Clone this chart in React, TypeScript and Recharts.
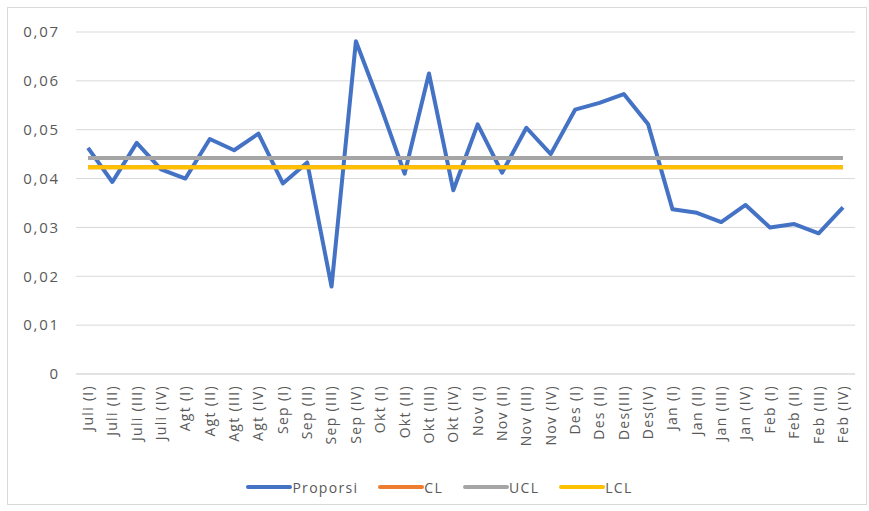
import { LineChart, Line, XAxis, YAxis, CartesianGrid, Legend } from "recharts";

const categories = [
  "Juli (I)", "Juli (II)", "Juli (III)", "Juli (IV)",
  "Agt (I)", "Agt (II)", "Agt (III)", "Agt (IV)",
  "Sep (I)", "Sep (II)", "Sep (III)", "Sep (IV)",
  "Okt (I)", "Okt (II)", "Okt (III)", "Okt (IV)",
  "Nov (I)", "Nov (II)", "Nov (III)", "Nov (IV)",
  "Des (I)", "Des (II)", "Des(III)", "Des(IV)",
  "Jan (I)", "Jan (II)", "Jan (III)", "Jan (IV)",
  "Feb (I)", "Feb (II)", "Feb (III)", "Feb (IV)",
];

const proporsi = [
  0.0463, 0.0393, 0.0473, 0.0419,
  0.04, 0.0481, 0.0458, 0.0492,
  0.039, 0.0433, 0.0179, 0.0681,
  0.055, 0.041, 0.0615, 0.0376,
  0.0511, 0.0412, 0.0504, 0.045,
  0.0541, 0.0555, 0.0573, 0.0511,
  0.0337, 0.033, 0.0311, 0.0346,
  0.03, 0.0307, 0.0288, 0.0341,
];

// garis kontrol (konstan)
const clValue = 0.0423;
const uclValue = 0.0442;
const lclValue = 0.0423;

const yTicks = [0, 0.01, 0.02, 0.03, 0.04, 0.05, 0.06, 0.07];

const series = [
  { key: "Proporsi", color: "#4472C4" },
  { key: "CL", color: "#ED7D31" },
  { key: "UCL", color: "#A5A5A5" },
  { key: "LCL", color: "#FFC000" },
];

const data = categories.map((name, i) => ({
  name,
  Proporsi: proporsi[i],
  CL: clValue,
  UCL: uclValue,
  LCL: lclValue,
}));

const FONT = "'Open Sans', sans-serif";
const TEXT = "#595959";

const formatY = (v: number) => (v === 0 ? "0" : v.toFixed(2).replace(".", ","));

const XTick = (props: any) => {
  const { x, y, payload } = props;
  return (
    <g transform={`translate(${x},${y})`}>
      <text
        transform="rotate(-90)"
        textAnchor="end"
        dy="0.35em"
        fill={TEXT}
        fontSize={14}
        fontFamily={FONT}
        letterSpacing={1.3}
      >
        {payload.value}
      </text>
    </g>
  );
};

const LegendContent = () => (
  <div style={{ display: "flex", justifyContent: "center", alignItems: "center", height: 40, paddingLeft: 44 }}>
    {series.map((s) => (
      <div key={s.key} style={{ display: "flex", alignItems: "center", marginRight: 20 }}>
        <svg width={46} height={6}>
          <line x1={2} y1={3} x2={44} y2={3} stroke={s.color} strokeWidth={4} strokeLinecap="round" />
        </svg>
        <span style={{ fontFamily: FONT, fontSize: 14, color: TEXT, letterSpacing: 1.3 }}>{s.key}</span>
      </div>
    ))}
  </div>
);

export default function App() {
  return (
    <div style={{ position: "absolute", left: 0, top: 0, width: 869, height: 511, background: "#fff" }}>
      <div
        style={{
          position: "absolute",
          left: 7,
          top: 7,
          width: 858,
          height: 496,
          border: "1px solid #d9d9d9",
        }}
      />
      <LineChart
        width={869}
        height={511}
        data={data}
        margin={{ top: 32, right: 14, left: 0, bottom: 4 }}
      >
        <CartesianGrid vertical={false} stroke="#d9d9d9" />
        <XAxis
          dataKey="name"
          interval={0}
          height={93}
          padding={{ left: 12, right: 12 }}
          axisLine={{ stroke: "#d9d9d9" }}
          tickLine={false}
          tickSize={0}
          tickMargin={11}
          tick={<XTick />}
        />
        <YAxis
          domain={[0, 0.07]}
          ticks={yTicks}
          width={76}
          axisLine={false}
          tickLine={false}
          tickSize={0}
          tickMargin={16}
          tickFormatter={formatY}
          tick={{ fill: TEXT, fontSize: 15, fontFamily: FONT, letterSpacing: 1.8 }}
        />
        <Legend verticalAlign="bottom" height={40} content={<LegendContent />} />
        {series.map((s) => (
          <Line
            key={s.key}
            type="linear"
            dataKey={s.key}
            stroke={s.color}
            strokeWidth={4}
            dot={false}
            activeDot={false}
            strokeLinejoin="round"
            isAnimationActive={false}
          />
        ))}
      </LineChart>
    </div>
  );
}
